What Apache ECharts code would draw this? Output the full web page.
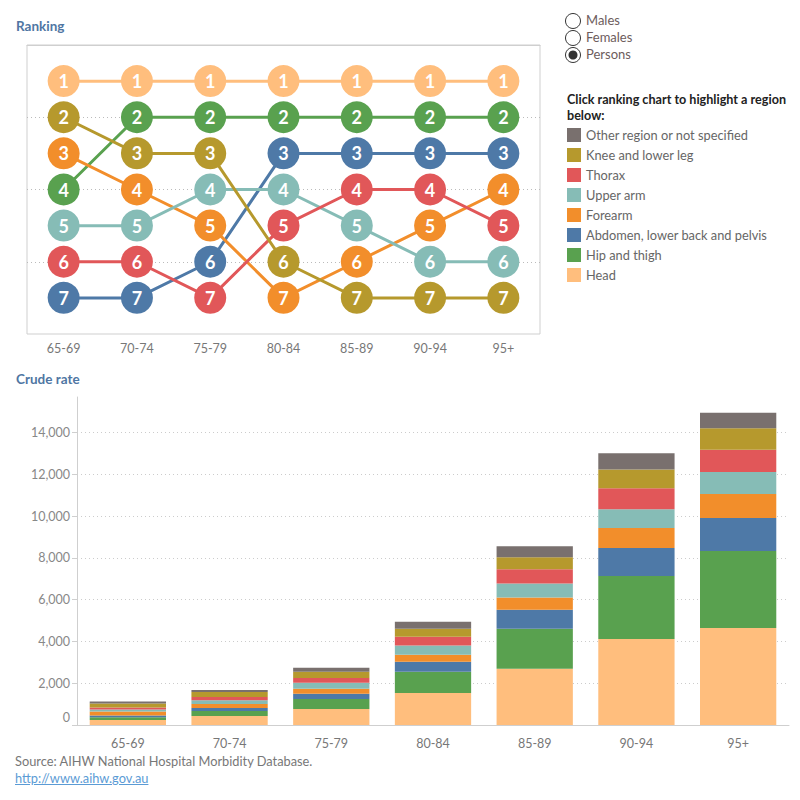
<!DOCTYPE html>
<html>
<head>
<meta charset="utf-8">
<script src="https://cdn.jsdelivr.net/npm/echarts@6/dist/echarts.min.js"></script>
<style>
  body { margin: 0; background: #fff; font-family: Lato, "Noto Sans", sans-serif; }
  #chart { position: absolute; left: 0; top: 0; width: 800px; height: 800px; }
  .src { position: absolute; left: 15px; top: 753px; font-size: 12.8px; line-height: 17px; color: #777; }
  .src a { color: #5b9bd5; }
</style>
</head>
<body>
<div id="chart"></div>
<div class="src">Source: AIHW National Hospital Morbidity Database.<br><a href="http://www.aihw.gov.au">http://www.aihw.gov.au</a></div>
<script>
const ageGroups = ['65-69', '70-74', '75-79', '80-84', '85-89', '90-94', '95+'];

// stacking order, bottom to top
const regions = ['Head', 'Hip and thigh', 'Abdomen, lower back and pelvis', 'Forearm',
  'Upper arm', 'Thorax', 'Knee and lower leg', 'Other region or not specified'];
const regionColors = ['#ffbe7d', '#59a14f', '#4e79a7', '#f28e2b', '#86bcb6', '#e15759', '#b6992d', '#79706e'];

// crude rate per age group
const headRate     = [240, 430, 770, 1535, 2690, 4115, 4640];
const hipRate      = [128, 245, 480, 1010, 1920, 3015, 3685];
const abdomenRate  = [90, 135, 240, 480, 910, 1340, 1580];
const forearmRate  = [185, 195, 250, 335, 585, 955, 1150];
const upperArmRate = [100, 185, 285, 450, 665, 905, 1050];
const thoraxRate   = [95, 150, 230, 415, 690, 1005, 1070];
const kneeRate     = [192, 235, 295, 385, 570, 890, 1030];
const otherRate    = [96, 96, 190, 335, 530, 780, 740];
const rates = [headRate, hipRate, abdomenRate, forearmRate, upperArmRate, thoraxRate, kneeRate, otherRate];

// ranking per age group (other region is not ranked)
const headRank     = [1, 1, 1, 1, 1, 1, 1];
const hipRank      = [4, 2, 2, 2, 2, 2, 2];
const abdomenRank  = [7, 7, 6, 3, 3, 3, 3];
const forearmRank  = [3, 4, 5, 7, 6, 5, 4];
const upperArmRank = [5, 5, 4, 4, 5, 6, 6];
const thoraxRank   = [6, 6, 7, 5, 4, 4, 5];
const kneeRank     = [2, 3, 3, 6, 7, 7, 7];
const ranks = [headRank, hipRank, abdomenRank, forearmRank, upperArmRank, thoraxRank, kneeRank];

const legendOrder = regions.slice().reverse();
const genders = ['Males', 'Females', 'Persons'];

const axisGray = '#cfcfcf';
const labelGray = '#777';

const chart = echarts.init(document.getElementById('chart'), null, { renderer: 'svg' });

const series = [];
regions.forEach((name, i) => {
  series.push({
    type: 'bar',
    name: name,
    stack: 'rate',
    xAxisIndex: 1,
    yAxisIndex: 1,
    barCategoryGap: '25%',
    itemStyle: { color: regionColors[i] },
    data: rates[i]
  });
});
ranks.forEach((r, i) => {
  series.push({
    type: 'line',
    name: regions[i],
    xAxisIndex: 0,
    yAxisIndex: 0,
    symbol: 'none',
    z: 2,
    lineStyle: { color: regionColors[i], width: 3 },
    itemStyle: { color: regionColors[i] },
    data: r
  });
});
ranks.forEach((r, i) => {
  series.push({
    type: 'scatter',
    name: regions[i],
    xAxisIndex: 0,
    yAxisIndex: 0,
    symbolSize: 32,
    z: 3,
    itemStyle: { color: regionColors[i], opacity: 1 },
    label: {
      show: true,
      position: 'inside',
      color: '#fff',
      fontSize: 18,
      fontWeight: 'bold',
      fontFamily: 'Lato',
      formatter: p => p.value
    },
    data: r
  });
});

const graphics = [];
genders.forEach((g, i) => {
  const cy = 21 + i * 17;
  graphics.push({ type: 'circle', shape: { cx: 573, cy: cy, r: 7.5 }, style: { fill: '#fff', stroke: '#333', lineWidth: 1 } });
  if (g === 'Persons') {
    graphics.push({ type: 'circle', shape: { cx: 573, cy: cy, r: 4.5 }, style: { fill: '#333' } });
  }
  graphics.push({ type: 'text', left: 586, top: cy - 8, style: { text: g, fill: '#6d5c5c', font: '13px Lato' } });
});
graphics.push({ type: 'text', left: 567, top: 93, style: { text: 'Click ranking chart to highlight a region', fill: '#222', font: 'bold 12.6px Lato' } });
graphics.push({ type: 'text', left: 567, top: 109, style: { text: 'below:', fill: '#222', font: 'bold 12.6px Lato' } });

chart.setOption({
  animation: false,
  textStyle: { fontFamily: 'Lato' },
  title: [
    { text: 'Ranking', left: 16, top: 19, padding: 0, textStyle: { fontSize: 13.5, fontWeight: 'bold', color: '#4f76a3' } },
    { text: 'Crude rate', left: 16, top: 372, padding: 0, textStyle: { fontSize: 13.5, fontWeight: 'bold', color: '#4f76a3' } }
  ],
  legend: {
    orient: 'vertical',
    left: 567,
    top: 128,
    padding: 0,
    icon: 'rect',
    itemWidth: 14,
    itemHeight: 14,
    itemGap: 6,
    textStyle: { fontSize: 12.8, color: '#666' },
    data: legendOrder
  },
  graphic: graphics,
  grid: [
    { left: 27, top: 45, width: 513, height: 289, show: true, borderColor: axisGray, borderWidth: 1 },
    { left: 77, top: 397, right: 11, bottom: 75 }
  ],
  xAxis: [
    {
      type: 'category', gridIndex: 0, data: ageGroups,
      axisLine: { lineStyle: { color: axisGray } },
      axisTick: { length: 5, lineStyle: { color: axisGray } },
      axisLabel: { color: labelGray, fontSize: 12.5, margin: 8 }
    },
    {
      type: 'category', gridIndex: 1, data: ageGroups,
      axisLine: { lineStyle: { color: axisGray } },
      axisTick: { length: 5, lineStyle: { color: axisGray } },
      axisLabel: { color: labelGray, fontSize: 12.5, margin: 12 }
    }
  ],
  yAxis: [
    {
      type: 'value', gridIndex: 0, inverse: true, min: 0, max: 8, interval: 2,
      axisLine: { show: false }, axisTick: { show: false }, axisLabel: { show: false },
      splitLine: { showMinLine: false, showMaxLine: false, lineStyle: { color: '#bbb', type: [1, 3] } }
    },
    {
      type: 'value', gridIndex: 1, min: 0, max: 15700, interval: 2000,
      axisLine: { show: true, lineStyle: { color: axisGray } },
      axisTick: { show: true, length: 5, lineStyle: { color: axisGray } },
      axisLabel: {
        color: '#888', fontSize: 12.5, margin: 7, showMaxLabel: false,
        formatter: v => v === 0 ? '{z|0}' : echarts.format.addCommas(v),
        rich: { z: { color: '#888', fontSize: 12.5, padding: [0, 0, 16, 0] } }
      },
      splitLine: { showMinLine: false, showMaxLine: false, lineStyle: { color: '#ccc', type: [1, 3] } }
    }
  ],
  series: series
});
</script>
</body>
</html>
